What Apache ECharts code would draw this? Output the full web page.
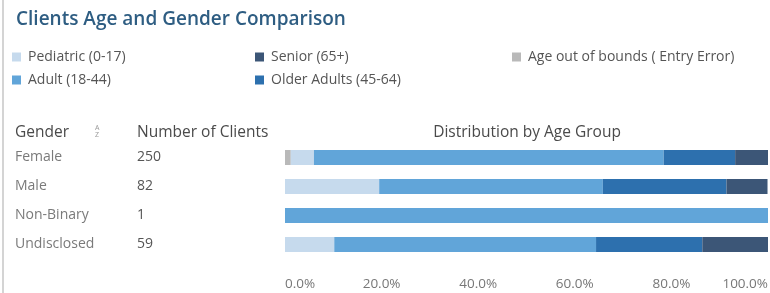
<!DOCTYPE html>
<html>
<head>
<meta charset="utf-8">
<title>Clients Age and Gender Comparison</title>
<script src="https://cdn.jsdelivr.net/npm/echarts@6/dist/echarts.min.js"></script>
<style>
  html, body { margin: 0; padding: 0; background: #fff; }
  #chart { width: 770px; height: 293px; }
</style>
</head>
<body>
<div id="chart"></div>
<script>
// rows of the table
var genders = ['Female', 'Male', 'Non-Binary', 'Undisclosed'];
var clientCounts = ['250', '82', '1', '59'];

// share of each age group per gender, in percent
var outOfBounds = [1.2, 0, 0, 0];
var pediatric = [4.8, 19.5, 0, 10.2];
var adult = [72.4, 46.3, 100, 54.2];
var olderAdults = [14.8, 25.6, 0, 22.0];
var senior = [6.8, 8.5, 0, 13.6];

var percentTicks = [0, 20, 40, 60, 80, 100];

var FONT = '"Open Sans", "DejaVu Sans", sans-serif';

var chart = echarts.init(document.getElementById('chart'));

// one stacked bar series per age group, stacking order left to right
function stackSeries(name, data, color) {
    return {
        name: name,
        type: 'bar',
        stack: 'age',
        barWidth: 15,
        data: data,
        itemStyle: { color: color },
        emphasis: { disabled: true }
    };
}

function legendBlock(left, names) {
    return {
        left: left,
        top: 50,
        orient: 'vertical',
        icon: 'rect',
        itemWidth: 9,
        itemHeight: 9,
        itemGap: 9,
        padding: 0,
        selectedMode: false,
        data: names,
        textStyle: { fontFamily: FONT, fontSize: 14, color: '#555', padding: [0, 0, 0, 2] }
    };
}

chart.setOption({
    animation: false,
    title: {
        text: 'Clients Age and Gender Comparison',
        left: 11,
        top: 5,
        textStyle: { fontFamily: FONT, fontSize: 19, fontWeight: 600, color: '#2e5d82' }
    },
    legend: [
        legendBlock(12, ['Pediatric (0-17)', 'Adult (18-44)']),
        legendBlock(255, ['Senior (65+)', 'Older Adults (45-64)']),
        legendBlock(512, ['Age out of bounds ( Entry Error)'])
    ],
    grid: {
        left: 285,
        right: 2,
        top: 143,
        bottom: 34,
        outerBoundsMode: 'none'
    },
    xAxis: {
        type: 'value',
        min: 0,
        max: 100,
        interval: 20,
        axisLine: { show: false },
        axisTick: { show: false },
        splitLine: { show: false },
        axisLabel: {
            margin: 18,
            fontFamily: FONT,
            fontSize: 13.5,
            color: '#777',
            alignMinLabel: 'left',
            alignMaxLabel: 'right',
            formatter: function (v) {
                return percentTicks.indexOf(v) >= 0 ? v.toFixed(1) + '%' : '';
            }
        }
    },
    yAxis: [
        {
            type: 'category',
            position: 'left',
            inverse: true,
            data: genders,
            axisLine: { show: false },
            axisTick: { show: false },
            axisLabel: { align: 'left', margin: 270, fontFamily: FONT, fontSize: 14, color: '#7a7a7a' }
        },
        {
            type: 'category',
            position: 'left',
            offset: 0,
            inverse: true,
            data: clientCounts,
            axisLine: { show: false },
            axisTick: { show: false },
            axisLabel: { align: 'left', margin: 148, fontFamily: FONT, fontSize: 14, color: '#555' }
        }
    ],
    graphic: [
        // left border of the sheet
        { type: 'rect', left: 2, top: 0, shape: { width: 2, height: 293 }, style: { fill: '#d4d4d4' } },
        { type: 'text', left: 15, top: 125, style: { text: 'Gender', font: '15.5px ' + FONT, fill: '#4a4a4a' } },
        { type: 'text', left: 95, top: 124, style: { text: 'A', font: '7px ' + FONT, fill: '#999' } },
        { type: 'text', left: 95, top: 131, style: { text: 'Z', font: '7px ' + FONT, fill: '#999' } },
        { type: 'text', left: 137, top: 125, style: { text: 'Number of Clients', font: '15.5px ' + FONT, fill: '#4a4a4a' } },
        { type: 'text', x: 527, y: 125, style: { text: 'Distribution by Age Group', font: '15.5px ' + FONT, fill: '#4a4a4a', align: 'center' } }
    ],
    series: [
        stackSeries('Age out of bounds ( Entry Error)', outOfBounds, '#b9b9b9'),
        stackSeries('Pediatric (0-17)', pediatric, '#c6daed'),
        stackSeries('Adult (18-44)', adult, '#61a5d9'),
        stackSeries('Older Adults (45-64)', olderAdults, '#2d70ae'),
        stackSeries('Senior (65+)', senior, '#3c5677')
    ]
});
</script>
</body>
</html>
